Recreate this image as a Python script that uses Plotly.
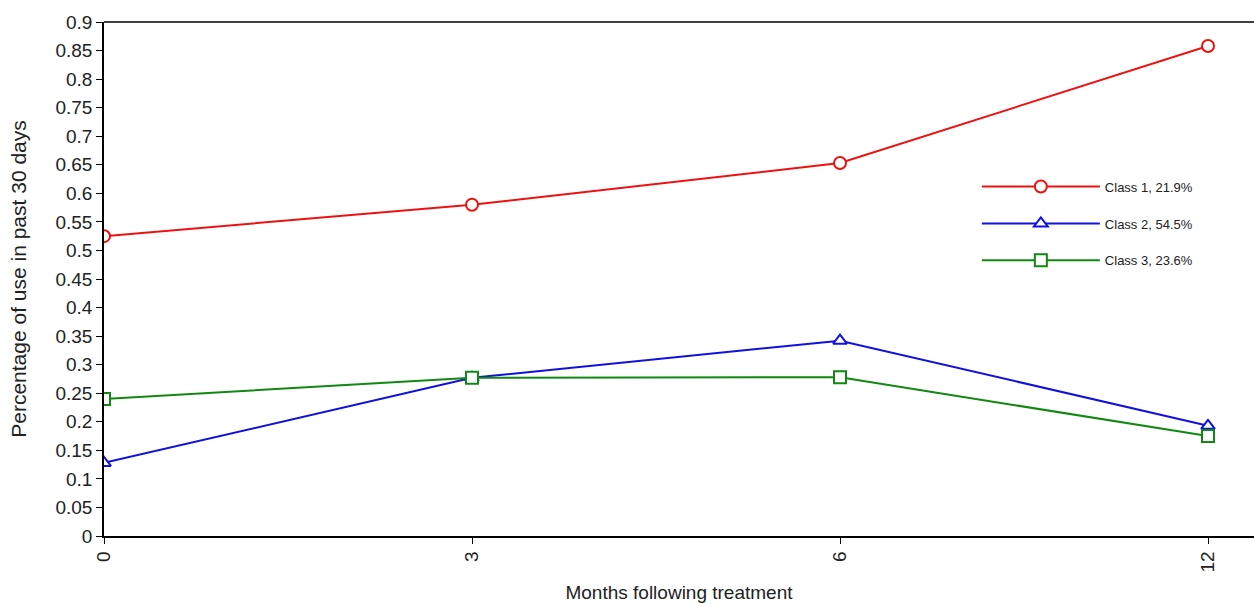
import plotly.graph_objects as go

months = ["0", "3", "6", "12"]
class1 = [0.525, 0.580, 0.653, 0.858]
class2 = [0.128, 0.277, 0.342, 0.193]
class3 = [0.240, 0.277, 0.278, 0.175]
names = ["Class 1, 21.9%", "Class 2, 54.5%", "Class 3, 23.6%"]
colors = ["#ee1111", "#1111dd", "#118811"]
symbols = ["circle", "triangle-up", "square"]
yticks = [round(i * 0.05, 2) for i in range(19)]
yticklabels = [("%g" % v) for v in yticks]

fig = go.Figure()
for i, (vals, nm, col, sym) in enumerate(zip([class1, class2, class3], names, colors, symbols)):
    fig.add_trace(go.Scatter(
        x=months, y=vals, mode="lines+markers", name=nm,
        legendgroup="g%d" % i,
        line=dict(color=col, width=2),
        marker=dict(symbol=sym, size=12, color="white", line=dict(color=col, width=2)),
    ))

fig.update_layout(
    width=1254, height=607,
    margin=dict(l=104, r=0, t=22, b=71),
    paper_bgcolor="white", plot_bgcolor="white",
    font=dict(family="Liberation Sans, Arial, sans-serif", color="#222222", size=19),
    showlegend=True,
    legend=dict(x=0.759, y=0.709, xanchor="left", yanchor="top",
                font=dict(size=13, color="#222222"), tracegroupgap=17,
                itemwidth=118,
                bgcolor="rgba(0,0,0,0)"),
    xaxis=dict(
        type="category", categoryorder="array", categoryarray=months,
        range=[0, 3.125], showgrid=False, zeroline=False,
        showline=True, linecolor="black", linewidth=1.5, mirror=False,
        ticks="outside", ticklen=6, tickcolor="black", tickangle=-90,
        tickfont=dict(size=19),
        title=dict(text="Months following treatment", font=dict(size=19), standoff=14),
    ),
    yaxis=dict(
        range=[0, 0.9], tickvals=yticks, ticktext=yticklabels,
        showgrid=False, zeroline=False,
        showline=True, linecolor="black", linewidth=1.5,
        ticks="outside", ticklen=6, tickcolor="black",
        tickfont=dict(size=19),
        title=dict(text="Percentage of use in past 30 days", font=dict(size=21), standoff=23),
    ),
    shapes=[dict(type="line", xref="paper", yref="paper", x0=0, x1=1, y0=1, y1=1,
                 line=dict(color="black", width=1.5))],
)

fig.write_html("out.html")
